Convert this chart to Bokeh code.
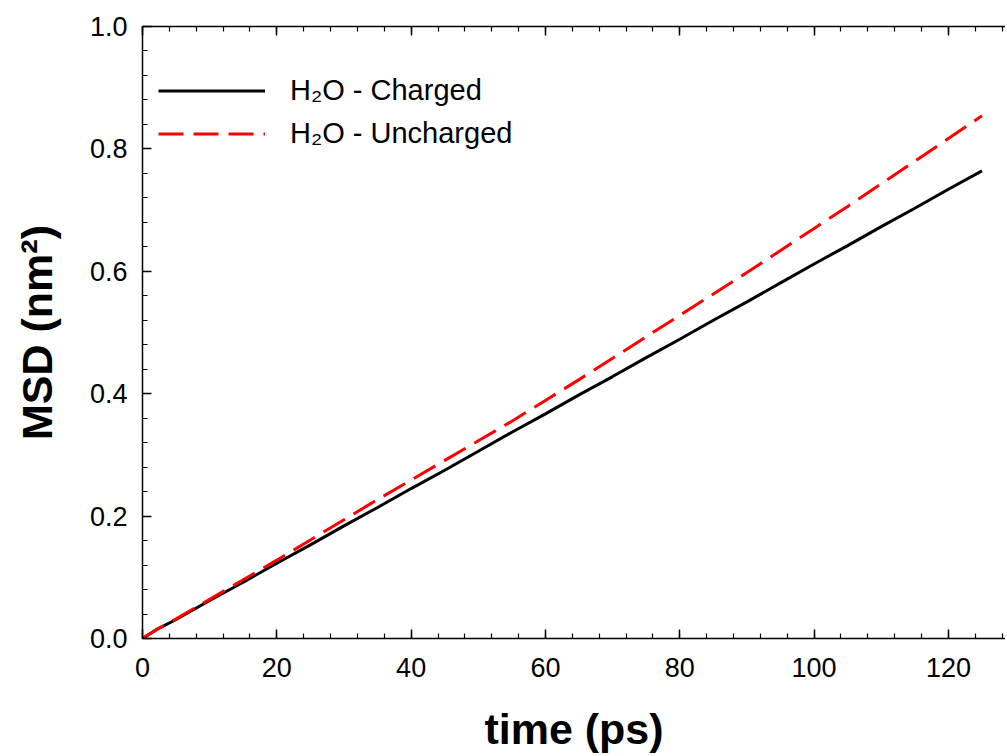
from bokeh.plotting import figure
from bokeh.models import (Range1d, SingleIntervalTicker, LinearAxis, Legend, LegendItem,
                          NumeralTickFormatter, CustomJSTickFormatter)
from bokeh.embed import file_html
from bokeh.resources import INLINE

# ---- data ----
time_ps = [0, 2, 5, 10, 15, 20, 25, 30, 35, 40, 45, 50, 55, 60, 65, 70, 75, 80,
           85, 90, 95, 100, 105, 110, 115, 120, 125]
msd_charged = [0.0, 0.014, 0.031, 0.062, 0.092, 0.123, 0.153, 0.184, 0.214, 0.245,
               0.275, 0.306, 0.337, 0.367, 0.398, 0.428, 0.459, 0.489, 0.520, 0.550,
               0.581, 0.612, 0.642, 0.673, 0.703, 0.734, 0.764]
msd_uncharged = [0.0, 0.014, 0.032, 0.064, 0.096, 0.128, 0.161, 0.194, 0.227, 0.259,
                 0.291, 0.323, 0.355, 0.389, 0.423, 0.458, 0.493, 0.528, 0.563, 0.598,
                 0.634, 0.670, 0.706, 0.743, 0.780, 0.817, 0.854]
label_charged = "H\u2082O - Charged"
label_uncharged = "H\u2082O - Uncharged"
x_title = "time (ps)"
y_title = "MSD (nm\u00b2)"

FONT = "Liberation Sans"

p = figure(width=1005, height=756, output_backend="svg", toolbar_location=None,
           x_range=Range1d(0, 128.5), y_range=Range1d(0, 1.0),
           min_border_left=142, min_border_right=0, min_border_top=26,
           min_border_bottom=118)
p.outline_line_color = None
p.grid.visible = False
p.background_fill_color = "white"
p.border_fill_color = "white"

p.xaxis.ticker = SingleIntervalTicker(interval=20, num_minor_ticks=5)
p.yaxis.ticker = SingleIntervalTicker(interval=0.2, num_minor_ticks=5)
p.yaxis.formatter = NumeralTickFormatter(format="0.0")

for ax in (p.xaxis[0], p.yaxis[0]):
    ax.axis_line_color = "black"
    ax.axis_line_width = 1.5
    ax.major_tick_in = 9
    ax.major_tick_out = 0
    ax.minor_tick_in = 5
    ax.minor_tick_out = 0
    ax.major_tick_line_width = 1.5
    ax.minor_tick_line_width = 1.2
    ax.major_tick_line_color = "black"
    ax.minor_tick_line_color = "black"
    ax.major_label_text_font = FONT
    ax.major_label_text_font_size = "27px"
    ax.major_label_text_color = "black"
    ax.axis_label_text_font = FONT
    ax.axis_label_text_font_size = "43px"
    ax.axis_label_text_font_style = "bold"
    ax.axis_label_text_color = "black"

p.xaxis.major_label_standoff = 19
p.yaxis.major_label_standoff = 15
p.xaxis.axis_label = x_title
p.yaxis.axis_label = y_title
p.xaxis.axis_label_standoff = 25
p.yaxis.axis_label_standoff = 26

top = LinearAxis(ticker=SingleIntervalTicker(interval=20, num_minor_ticks=5),
                 formatter=CustomJSTickFormatter(code="return ''"),
                 major_label_standoff=0,
                 axis_line_color="black", axis_line_width=1.5,
                 major_tick_in=9, major_tick_out=0, minor_tick_in=5, minor_tick_out=0,
                 major_tick_line_width=1.5, minor_tick_line_width=1.2)
p.add_layout(top, "above")

r1 = p.line(time_ps, msd_charged, line_color="black", line_width=3)
r2 = p.line(time_ps, msd_uncharged, line_color="#ff0000", line_width=3,
            line_dash="25 10")

legend = Legend(items=[LegendItem(label=label_charged, renderers=[r1]),
                       LegendItem(label=label_uncharged, renderers=[r2])],
                location=(16, 483), margin=0, padding=0, spacing=0,
                glyph_width=107, glyph_height=43, label_height=43,
                label_standoff=25, label_text_font=FONT,
                label_text_font_size="29px", label_text_color="black",
                border_line_color=None, background_fill_alpha=0)
p.add_layout(legend, "center")

open("out.html", "w").write(file_html(p, INLINE))
